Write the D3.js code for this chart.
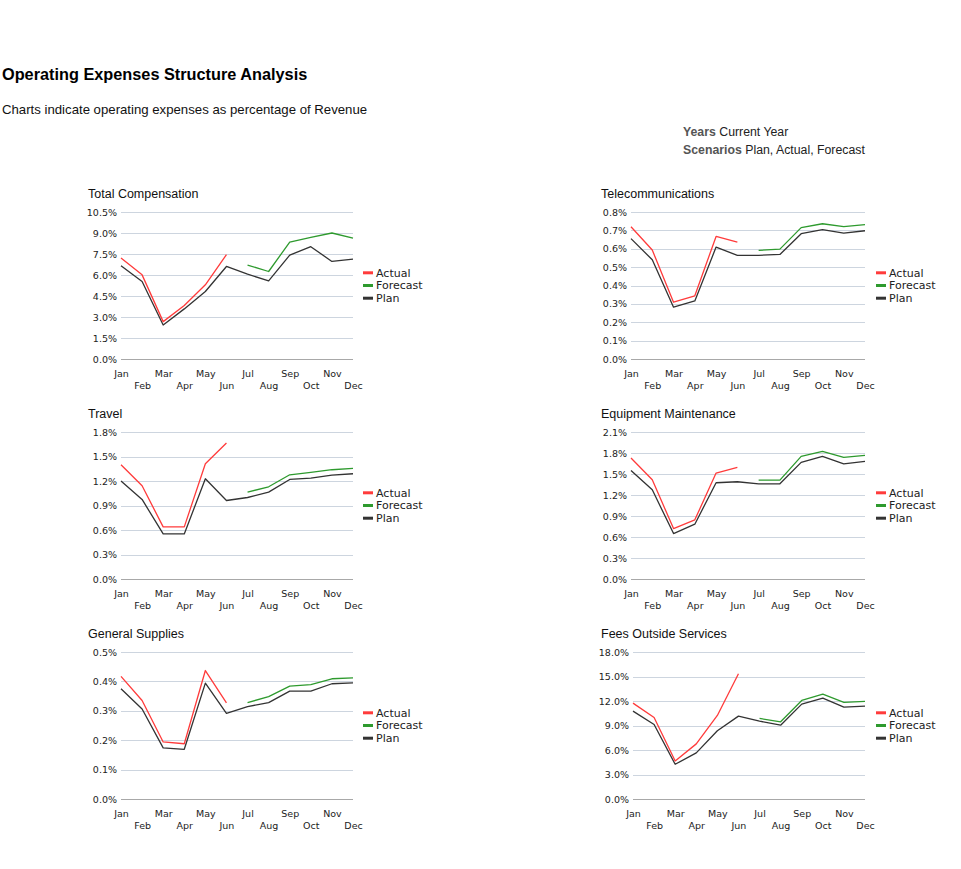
<!DOCTYPE html>
<html>
<head>
<meta charset="utf-8">
<script src="https://cdn.jsdelivr.net/npm/d3@7"></script>
<style>
  body { margin: 0; background: #fff; }
  svg { display: block; }
</style>
</head>
<body>
<div id="chart"></div>
<script>
// data (percent of revenue)
const months = ["Jan","Feb","Mar","Apr","May","Jun","Jul","Aug","Sep","Oct","Nov","Dec"];
const seriesNames = ["Actual","Forecast","Plan"];
const seriesColors = ["#ff3b3b","#2e9a2e","#333333"];
const panelTitles = ["Total Compensation","Telecommunications","Travel","Equipment Maintenance","General Supplies","Fees Outside Services"];
const axisMax = [10.5, 0.8, 1.8, 2.1, 0.5, 18.0];
const axisStep = [1.5, 0.1, 0.3, 0.3, 0.1, 3.0];

const totalCompPlan = [6.66,5.54,2.43,3.58,4.82,6.61,6.06,5.58,7.42,8.02,6.97,7.13];
const totalCompActual = [7.21,6.01,2.67,3.82,5.30,7.45,null,null,null,null,null,null];
const totalCompForecast = [null,null,null,null,null,null,6.71,6.25,8.35,8.69,9.00,8.64];

const telecomPlan = [0.655,0.540,0.282,0.316,0.609,0.564,0.564,0.569,0.682,0.704,0.685,0.698];
const telecomActual = [0.720,0.593,0.309,0.344,0.667,0.636,null,null,null,null,null,null];
const telecomForecast = [null,null,null,null,null,null,0.591,0.598,0.715,0.736,0.720,0.731];

const travelPlan = [1.199,0.974,0.552,0.552,1.227,0.961,0.998,1.064,1.219,1.235,1.272,1.289];
const travelActual = [1.399,1.141,0.638,0.638,1.411,1.665,null,null,null,null,null,null];
const travelForecast = [null,null,null,null,null,null,1.064,1.129,1.276,1.305,1.338,1.354];

const equipPlan = [1.551,1.274,0.649,0.783,1.375,1.389,1.360,1.360,1.666,1.752,1.646,1.680];
const equipActual = [1.728,1.418,0.720,0.845,1.513,1.594,null,null,null,null,null,null];
const equipForecast = [null,null,null,null,null,null,1.413,1.413,1.752,1.823,1.737,1.766];

const suppliesPlan = [0.375,0.306,0.174,0.169,0.394,0.291,0.314,0.328,0.367,0.367,0.392,0.395];
const suppliesActual = [0.417,0.335,0.194,0.188,0.437,0.327,null,null,null,null,null,null];
const suppliesForecast = [null,null,null,null,null,null,0.328,0.348,0.384,0.389,0.409,0.412];

const feesPlan = [10.76,9.12,4.25,5.65,8.35,10.15,9.53,9.04,11.62,12.35,11.25,11.37];
const feesActual = [11.74,9.98,4.66,6.75,10.23,15.34,null,null,null,null,null,null];
const feesForecast = [null,null,null,null,null,null,9.86,9.45,12.07,12.85,11.82,11.95];

const panelSeries = [
  [totalCompActual, totalCompForecast, totalCompPlan],
  [telecomActual, telecomForecast, telecomPlan],
  [travelActual, travelForecast, travelPlan],
  [equipActual, equipForecast, equipPlan],
  [suppliesActual, suppliesForecast, suppliesPlan],
  [feesActual, feesForecast, feesPlan]
];

const W = 961, H = 869;
const sans = "Liberation Sans, Arial, sans-serif";
const svg = d3.select("#chart").append("svg").attr("width", W).attr("height", H);

// header
svg.append("text").attr("x", 2).attr("y", 80)
  .attr("font-family", sans).attr("font-size", 16.3)
  .attr("font-weight", "bold").attr("fill", "#000")
  .text("Operating Expenses Structure Analysis");
svg.append("text").attr("x", 2).attr("y", 114)
  .attr("font-family", sans).attr("font-size", 13.2)
  .attr("fill", "#111")
  .text("Charts indicate operating expenses as percentage of Revenue");

const info = [["Years","Current Year"],["Scenarios","Plan, Actual, Forecast"]];
info.forEach((d, i) => {
  const t = svg.append("text").attr("x", 683).attr("y", 136 + i*18)
    .attr("font-family", sans).attr("font-size", 12.3);
  t.append("tspan").attr("font-weight", "bold").attr("fill", "#555").text(d[0]);
  t.append("tspan").attr("fill", "#222").text(" " + d[1]);
});

// panel layout
const colX = [
  {title: 88, x0: 121, x1: 353, legend: 363},
  {title: 601, x0: 631, x1: 865, legend: 876}
];
const rowTop = 212, rowH = 147, rowGap = 220;

panelTitles.forEach((title, p) => {
  const col = p % 2, row = Math.floor(p / 2);
  const c = colX[col];
  const top = rowTop + row*rowGap, bottom = top + rowH;
  const x0 = (p === 5) ? c.x0 + 2 : c.x0;
  const g = svg.append("g");

  const x = d3.scalePoint().domain(months).range([x0, c.x1]);
  const y = d3.scaleLinear().domain([0, axisMax[p]]).range([bottom, top]);
  const ticks = d3.range(0, axisMax[p] + axisStep[p]/2, axisStep[p]);

  g.append("text").attr("x", c.title).attr("y", top - 14)
    .attr("font-family", sans).attr("font-size", 12.5)
    .attr("fill", "#111").text(title);

  // grid lines
  g.selectAll(".grid").data(ticks).join("line")
    .attr("x1", x0).attr("x2", c.x1)
    .attr("y1", d => Math.round(y(d)) + 0.5).attr("y2", d => Math.round(y(d)) + 0.5)
    .attr("stroke", (d, i) => i === 0 ? "#a8a8a8" : "#cdd5df").attr("stroke-width", 1);

  // y axis labels
  const yAxis = d3.axisLeft(y).tickValues(ticks).tickSize(0).tickPadding(4)
    .tickFormat(d => d.toFixed(1) + "%");
  const ya = g.append("g").attr("transform", `translate(${x0},0)`).call(yAxis);
  ya.select(".domain").remove();
  ya.selectAll("text").attr("font-family", "DejaVu Sans, sans-serif").attr("font-size", 9.5).attr("fill", "#222");

  // x axis labels, staggered
  const xAxis = d3.axisBottom(x).tickSize(0).tickPadding(0);
  const xa = g.append("g").attr("transform", `translate(0,${bottom})`).call(xAxis);
  xa.select(".domain").remove();
  xa.selectAll("text")
    .attr("font-family", "DejaVu Sans, sans-serif").attr("font-size", 9.5).attr("fill", "#222")
    .attr("dy", null)
    .attr("y", (d, i) => i % 2 === 0 ? 18 : 30);

  // lines, plan drawn first so actual/forecast sit on top
  const line = d3.line().defined(d => d != null)
    .x((d, i) => x(months[i])).y(d => y(d));
  [2, 0, 1].forEach(s => {
    g.append("path").datum(panelSeries[p][s])
      .attr("d", line).attr("fill", "none")
      .attr("stroke", seriesColors[s]).attr("stroke-width", 1.3)
      .attr("stroke-linejoin", "round");
  });

  // legend
  const mid = (top + bottom) / 2;
  seriesNames.forEach((name, s) => {
    const ly = mid + (s - 1) * 12.7;
    g.append("line").attr("x1", c.legend).attr("x2", c.legend + 10)
      .attr("y1", ly).attr("y2", ly)
      .attr("stroke", seriesColors[s]).attr("stroke-width", 3);
    g.append("text").attr("x", c.legend + 13).attr("y", ly).attr("dy", "0.35em")
      .attr("font-family", "DejaVu Sans, sans-serif").attr("font-size", 11)
      .attr("fill", "#222").text(name);
  });
});
</script>
</body>
</html>
